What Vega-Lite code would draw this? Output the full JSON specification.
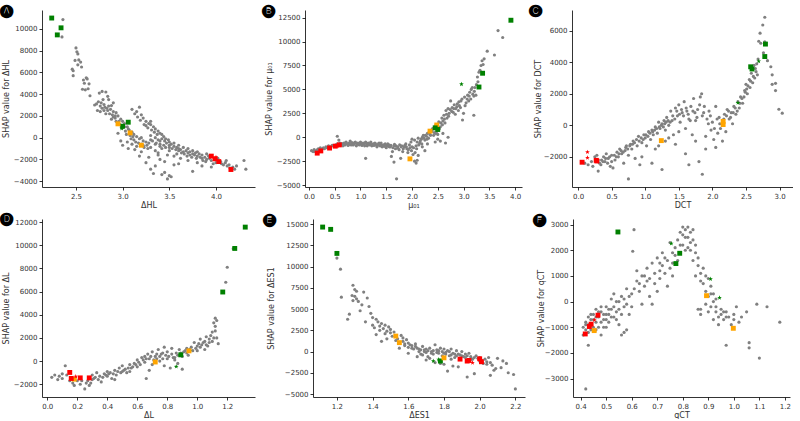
{
"$schema": "https://vega.github.io/schema/vega-lite/v6.json",
"padding": {"left": 0, "top": 3, "right": 0, "bottom": 0},
"background": "white",
"config": {
  "view": {"stroke": null},
  "axis": {"grid": false, "domainColor": "#000", "tickColor": "#000", "labelColor": "#333", "titleColor": "#333", "labelFont": "DejaVu Sans", "titleFont": "DejaVu Sans", "labelFontSize": 7, "titleFontSize": 8, "titleFontWeight": "normal", "tickSize": 3, "domainWidth": 0.8, "tickWidth": 0.8, "labelPadding": 2, "titlePadding": 3},
  "axisY": {"minExtent": 29, "maxExtent": 29},
  "axisX": {"titlePadding": 2},
  "title": {"font": "DejaVu Sans", "fontSize": 12.5, "color": "#000", "anchor": "start", "frame": "group", "offset": -6}
},
"datasets": {
  "A": [{"x":2.36,"y":10860},{"x":2.35,"y":9265},{"x":2.5,"y":8250},{"x":2.51,"y":7900},{"x":2.52,"y":7700},{"x":2.49,"y":7100},{"x":2.53,"y":7150},{"x":2.47,"y":6150},{"x":2.46,"y":6300},{"x":2.47,"y":5700},{"x":2.55,"y":6950},{"x":2.56,"y":6500},{"x":2.52,"y":6700},{"x":2.61,"y":5500},{"x":2.62,"y":5400},{"x":2.59,"y":5000},{"x":2.64,"y":4950},{"x":2.63,"y":4500},{"x":2.57,"y":4450},{"x":2.6,"y":4400},{"x":2.65,"y":3850},{"x":2.58,"y":5300},{"x":2.75,"y":4100},{"x":2.78,"y":4250},{"x":2.82,"y":4200},{"x":2.84,"y":3800},{"x":2.85,"y":3500},{"x":2.79,"y":3500},{"x":2.72,"y":3100},{"x":2.7,"y":3000},{"x":2.76,"y":2900},{"x":2.8,"y":3050},{"x":2.85,"y":2900},{"x":2.88,"y":2950},{"x":2.9,"y":3200},{"x":2.83,"y":2700},{"x":2.78,"y":2700},{"x":2.73,"y":2500},{"x":2.76,"y":2400},{"x":2.8,"y":2500},{"x":2.87,"y":2600},{"x":2.9,"y":2400},{"x":2.93,"y":2300},{"x":2.86,"y":2200},{"x":2.82,"y":2200},{"x":2.95,"y":2000},{"x":2.9,"y":1900},{"x":2.88,"y":1700},{"x":2.93,"y":1500},{"x":2.98,"y":1700},{"x":3.0,"y":1500},{"x":2.97,"y":1200},{"x":3.02,"y":1300},{"x":3.0,"y":900},{"x":3.05,"y":1000},{"x":3.07,"y":700},{"x":3.03,"y":600},{"x":3.1,"y":500},{"x":3.12,"y":300},{"x":3.08,"y":200},{"x":3.15,"y":100},{"x":3.18,"y":-100},{"x":3.2,"y":0},{"x":3.22,"y":-300},{"x":3.25,"y":-400},{"x":3.12,"y":-200},{"x":3.1,"y":-600},{"x":3.15,"y":-800},{"x":3.05,"y":-400},{"x":3.0,"y":-700},{"x":2.98,"y":-300},{"x":2.95,"y":400},{"x":3.06,"y":-1000},{"x":3.13,"y":-1100},{"x":3.2,"y":-1300},{"x":3.22,"y":-700},{"x":3.18,"y":-1700},{"x":3.25,"y":-2300},{"x":3.3,"y":-2900},{"x":3.33,"y":-3300},{"x":3.35,"y":-2600},{"x":3.4,"y":-2000},{"x":3.42,"y":-3400},{"x":3.45,"y":-3200},{"x":3.48,"y":-3800},{"x":3.5,"y":-3500},{"x":3.52,"y":-3600},{"x":3.55,"y":-2500},{"x":3.45,"y":-2200},{"x":3.38,"y":-1600},{"x":3.35,"y":-1200},{"x":3.3,"y":-900},{"x":3.28,"y":-1800},{"x":3.1,"y":2600},{"x":3.15,"y":2400},{"x":3.13,"y":2200},{"x":3.18,"y":2800},{"x":3.2,"y":2100},{"x":3.22,"y":1800},{"x":3.25,"y":1500},{"x":3.28,"y":1300},{"x":3.3,"y":1200},{"x":3.33,"y":1000},{"x":3.35,"y":800},{"x":3.38,"y":600},{"x":3.4,"y":400},{"x":3.42,"y":300},{"x":3.3,"y":1500},{"x":3.25,"y":1100},{"x":3.3,"y":200},{"x":3.35,"y":0},{"x":3.38,"y":-200},{"x":3.4,"y":-300},{"x":3.42,"y":-100},{"x":3.45,"y":-300},{"x":3.47,"y":-500},{"x":3.5,"y":-400},{"x":3.5,"y":-700},{"x":3.52,"y":-600},{"x":3.55,"y":-800},{"x":3.55,"y":-500},{"x":3.58,"y":-900},{"x":3.6,"y":-700},{"x":3.6,"y":-1000},{"x":3.62,"y":-1100},{"x":3.65,"y":-900},{"x":3.65,"y":-1300},{"x":3.68,"y":-1200},{"x":3.7,"y":-1000},{"x":3.7,"y":-1400},{"x":3.72,"y":-1600},{"x":3.75,"y":-1200},{"x":3.75,"y":-1500},{"x":3.78,"y":-1400},{"x":3.8,"y":-1300},{"x":3.8,"y":-1700},{"x":3.82,"y":-1500},{"x":3.85,"y":-1600},{"x":3.85,"y":-1900},{"x":3.88,"y":-1800},{"x":3.9,"y":-1500},{"x":3.9,"y":-2000},{"x":3.92,"y":-1700},{"x":3.95,"y":-2100},{"x":4.0,"y":-2300},{"x":4.02,"y":-1900},{"x":4.05,"y":-2200},{"x":4.08,"y":-2500},{"x":4.1,"y":-2300},{"x":4.12,"y":-2600},{"x":4.15,"y":-2800},{"x":4.18,"y":-2700},{"x":4.3,"y":-2100},{"x":4.32,"y":-2900},{"x":3.7,"y":-2100},{"x":3.6,"y":-2400},{"x":3.62,"y":-1900},{"x":3.8,"y":-2300},{"x":3.75,"y":-3100},{"x":3.85,"y":-2600},{"x":3.95,"y":-2700},{"x":3.58,"y":-1500},{"x":3.48,"y":-1600},{"x":3.42,"y":-1000},{"x":3.5,"y":-1200},{"x":3.55,"y":-1700},{"x":3.35,"y":-600},{"x":3.4,"y":-800},{"x":3.28,"y":-500},{"x":3.3,"y":-200},{"x":3.38,"y":-1400},
        {"x":3.32,"y":-300},{"x":3.36,"y":-500},{"x":3.4,"y":-600},{"x":3.44,"y":-700},{"x":3.46,"y":-900},{"x":3.5,"y":-900},{"x":3.53,"y":-1000},{"x":3.57,"y":-1100},{"x":3.6,"y":-1200},{"x":3.63,"y":-1400},{"x":3.66,"y":-1500},{"x":3.69,"y":-1700},{"x":3.72,"y":-1300},{"x":3.74,"y":-1800},{"x":3.77,"y":-1600},{"x":3.79,"y":-1900},{"x":3.83,"y":-1800},{"x":3.86,"y":-2100},{"x":3.89,"y":-2200},{"x":3.93,"y":-1900},{"x":3.97,"y":-2400},{"x":4.06,"y":-2400},{"x":4.11,"y":-2100},{"x":4.14,"y":-2500},{"x":4.2,"y":-2900},{"x":4.22,"y":-2600},{"x":3.02,"y":1000},{"x":3.04,"y":300},{"x":3.06,"y":800},{"x":3.09,"y":-100},{"x":3.11,"y":100},{"x":3.14,"y":-400},{"x":3.17,"y":-500},{"x":3.2,"y":-600},{"x":3.23,"y":-900},{"x":3.26,"y":-700},{"x":3.27,"y":-1000},{"x":2.92,"y":1800},{"x":2.96,"y":1500},{"x":2.99,"y":1100},{"x":2.74,"y":3300},{"x":2.77,"y":3200},{"x":2.81,"y":2800},{"x":2.84,"y":2500},{"x":2.89,"y":2100},{"x":2.92,"y":2000},{"x":3.16,"y":1900},{"x":3.19,"y":1600},{"x":3.23,"y":1200},{"x":3.27,"y":900},{"x":3.31,"y":700},{"x":3.34,"y":500},{"x":3.37,"y":300},{"x":3.44,"y":100},{"x":3.46,"y":-100},{"x":3.49,"y":-200}],
  "Ah": [{"x":2.24,"y":11000,"c":"green","m":"square"},{"x":2.34,"y":10100,"c":"green","m":"square"},{"x":2.3,"y":9450,"c":"green","m":"square"},{"x":3.0,"y":1050,"c":"green","m":"square"},{"x":3.06,"y":1420,"c":"green","m":"square"},{"x":2.99,"y":850,"c":"green","m":"star"},{"x":2.95,"y":1270,"c":"orange","m":"square"},{"x":3.08,"y":440,"c":"orange","m":"square"},{"x":3.2,"y":-700,"c":"orange","m":"square"},{"x":3.95,"y":-1700,"c":"red","m":"square"},{"x":4.0,"y":-1800,"c":"red","m":"star"},{"x":3.99,"y":-1950,"c":"red","m":"square"},{"x":4.03,"y":-2200,"c":"red","m":"square"},{"x":4.16,"y":-2930,"c":"red","m":"square"}],
  "B": [{"x":0.05,"y":-1400},{"x":0.08,"y":-1500},{"x":0.1,"y":-1300},{"x":0.12,"y":-1500},{"x":0.15,"y":-1350},{"x":0.18,"y":-1200},{"x":0.2,"y":-1400},{"x":0.22,"y":-1100},{"x":0.25,"y":-1250},{"x":0.28,"y":-1100},{"x":0.3,"y":-1200},{"x":0.33,"y":-1000},{"x":0.35,"y":-1100},{"x":0.38,"y":-900},{"x":0.42,"y":-1000},{"x":0.45,"y":-850},{"x":0.48,"y":-950},{"x":0.52,"y":-800},{"x":0.55,"y":-700},{"x":0.55,"y":100},{"x":0.58,"y":-300},{"x":0.6,"y":-600},{"x":0.62,"y":-800},{"x":0.65,"y":-700},{"x":0.68,"y":-600},{"x":0.7,"y":-800},{"x":0.72,"y":-500},{"x":0.75,"y":-700},{"x":0.78,"y":-600},{"x":0.8,"y":-400},{"x":0.82,"y":-800},{"x":0.85,"y":-600},{"x":0.88,"y":-700},{"x":0.9,"y":-500},{"x":0.92,"y":-900},{"x":0.95,"y":-600},{"x":0.98,"y":-800},{"x":1.0,"y":-500},{"x":1.02,"y":-700},{"x":1.05,"y":-600},{"x":1.08,"y":-900},{"x":1.1,"y":-2200},{"x":1.1,"y":-500},{"x":1.12,"y":-700},{"x":1.15,"y":-600},{"x":1.18,"y":-800},{"x":1.2,"y":-500},{"x":1.22,"y":-900},{"x":1.25,"y":-700},{"x":1.28,"y":-600},{"x":1.3,"y":-800},{"x":1.32,"y":-1000},{"x":1.35,"y":-700},{"x":1.38,"y":-900},{"x":1.4,"y":-600},{"x":1.42,"y":-1000},{"x":1.45,"y":-800},{"x":1.48,"y":-700},{"x":1.5,"y":-1100},{"x":1.52,"y":-900},{"x":1.55,"y":-800},{"x":1.58,"y":-1000},{"x":1.6,"y":-2000},{"x":1.62,"y":-1500},{"x":1.65,"y":-900},{"x":1.65,"y":-2600},{"x":1.68,"y":-1200},{"x":1.7,"y":-4350},{"x":1.72,"y":-1000},{"x":1.75,"y":-1300},{"x":1.78,"y":-2200},{"x":1.8,"y":-900},{"x":1.82,"y":-1500},{"x":1.85,"y":-1000},{"x":1.88,"y":-700},{"x":1.9,"y":-1200},{"x":1.92,"y":-1600},{"x":1.95,"y":-800},{"x":1.98,"y":-500},{"x":2.0,"y":-1000},{"x":2.02,"y":-1800},{"x":2.05,"y":-2500},{"x":2.08,"y":-2700},{"x":2.1,"y":-2400},{"x":2.12,"y":-1900},{"x":2.0,"y":-200},{"x":2.05,"y":-300},{"x":2.08,"y":-900},{"x":2.1,"y":-500},{"x":2.12,"y":-100},{"x":2.15,"y":-600},{"x":2.18,"y":-200},{"x":2.2,"y":0},{"x":2.22,"y":200},{"x":2.25,"y":-300},{"x":2.28,"y":100},{"x":2.3,"y":400},{"x":2.32,"y":-100},{"x":2.35,"y":300},{"x":2.38,"y":600},{"x":2.4,"y":900},{"x":2.42,"y":200},{"x":2.45,"y":1200},{"x":2.48,"y":600},{"x":2.5,"y":300},{"x":2.52,"y":1600},{"x":2.55,"y":1100},{"x":2.58,"y":2000},{"x":2.6,"y":1700},{"x":2.62,"y":2300},{"x":2.64,"y":1500},{"x":2.66,"y":2800},{"x":2.68,"y":2000},{"x":2.7,"y":3000},{"x":2.72,"y":2500},{"x":2.75,"y":3800},{"x":2.78,"y":3100},{"x":2.8,"y":2600},{"x":2.82,"y":3400},{"x":2.85,"y":3000},{"x":2.88,"y":3500},{"x":2.9,"y":2800},{"x":2.92,"y":3300},{"x":2.95,"y":3800},{"x":2.98,"y":1800},{"x":3.0,"y":2500},{"x":3.02,"y":4200},{"x":3.05,"y":3600},{"x":3.08,"y":4400},{"x":3.1,"y":3800},{"x":3.12,"y":4700},{"x":3.15,"y":5000},{"x":3.18,"y":4500},{"x":3.2,"y":4300},{"x":3.2,"y":2300},{"x":3.22,"y":5200},{"x":3.25,"y":5500},{"x":3.28,"y":5800},{"x":3.32,"y":7000},{"x":3.34,"y":7500},{"x":3.36,"y":8000},{"x":3.38,"y":7600},{"x":3.4,"y":8200},{"x":3.46,"y":9000},{"x":3.6,"y":8600},{"x":3.67,"y":11150},{"x":3.76,"y":10430},{"x":2.5,"y":-200},{"x":2.45,"y":-500},{"x":2.55,"y":-400},{"x":2.6,"y":400},{"x":2.65,"y":-600},{"x":2.7,"y":0},{"x":2.3,"y":-700},{"x":2.2,"y":-1000},{"x":2.25,"y":-1400},
        {"x":0.63,"y":-650},{"x":0.66,"y":-900},{"x":0.69,"y":-750},{"x":0.73,"y":-650},{"x":0.76,"y":-850},{"x":0.79,"y":-750},{"x":0.83,"y":-550},{"x":0.86,"y":-800},{"x":0.89,"y":-550},{"x":0.93,"y":-650},{"x":0.96,"y":-750},{"x":0.99,"y":-650},{"x":1.03,"y":-850},{"x":1.06,"y":-700},{"x":1.09,"y":-600},{"x":1.13,"y":-900},{"x":1.16,"y":-750},{"x":1.19,"y":-650},{"x":1.23,"y":-750},{"x":1.26,"y":-850},{"x":1.29,"y":-700},{"x":1.33,"y":-850},{"x":1.36,"y":-600},{"x":1.39,"y":-750},{"x":1.43,"y":-850},{"x":1.46,"y":-950},{"x":1.49,"y":-850},{"x":1.53,"y":-700},{"x":1.56,"y":-1000},{"x":1.59,"y":-850},{"x":1.63,"y":-1100},{"x":1.66,"y":-750},{"x":1.69,"y":-900},{"x":1.73,"y":-1150},{"x":1.76,"y":-800},{"x":1.79,"y":-1000},{"x":1.83,"y":-1200},{"x":1.86,"y":-850},{"x":1.89,"y":-1000},{"x":1.93,"y":-1300},{"x":1.96,"y":-1100},{"x":1.99,"y":-1400},{"x":2.03,"y":-1100},{"x":2.06,"y":-1600},{"x":2.09,"y":-1200},{"x":2.13,"y":-800},{"x":2.16,"y":-400},{"x":2.19,"y":-700},{"x":2.23,"y":-100},{"x":2.26,"y":200},{"x":2.29,"y":-200},{"x":2.33,"y":500},{"x":2.36,"y":200},{"x":2.39,"y":800},{"x":2.43,"y":500},{"x":2.46,"y":400},{"x":2.53,"y":900},{"x":2.56,"y":1500},{"x":2.59,"y":1300},{"x":2.63,"y":1900},{"x":2.67,"y":2400},{"x":2.71,"y":2200},{"x":2.74,"y":2900},{"x":2.77,"y":2700},{"x":2.81,"y":3000},{"x":2.84,"y":2400},{"x":2.87,"y":3200},{"x":2.91,"y":3700},{"x":2.94,"y":3100},{"x":2.97,"y":4000},{"x":3.03,"y":3300},{"x":3.07,"y":4000},{"x":3.11,"y":4300},{"x":3.14,"y":4000},{"x":3.17,"y":5200},{"x":3.21,"y":4800},{"x":3.24,"y":4400},{"x":3.27,"y":6300},{"x":3.3,"y":6800}],
  "Bh": [{"x":0.16,"y":-1660,"c":"red","m":"square"},{"x":0.23,"y":-1430,"c":"red","m":"square"},{"x":0.4,"y":-1130,"c":"red","m":"square"},{"x":0.51,"y":-930,"c":"red","m":"square"},{"x":0.59,"y":-800,"c":"red","m":"square"},{"x":0.55,"y":-950,"c":"red","m":"star"},{"x":1.96,"y":-2260,"c":"orange","m":"square"},{"x":2.35,"y":640,"c":"orange","m":"square"},{"x":2.48,"y":1280,"c":"orange","m":"square"},{"x":2.45,"y":980,"c":"green","m":"square"},{"x":2.5,"y":810,"c":"green","m":"square"},{"x":2.96,"y":5550,"c":"green","m":"star"},{"x":3.3,"y":5250,"c":"green","m":"square"},{"x":3.37,"y":6690,"c":"green","m":"square"},{"x":3.92,"y":12230,"c":"green","m":"square"}],
  "C": [{"x":0.1,"y":-2400},{"x":0.15,"y":-2500},{"x":0.2,"y":-2300},{"x":0.22,"y":-2600},{"x":0.25,"y":-2000},{"x":0.28,"y":-1900},{"x":0.3,"y":-2900},{"x":0.32,"y":-2400},{"x":0.35,"y":-2200},{"x":0.38,"y":-2000},{"x":0.4,"y":-2300},{"x":0.42,"y":-1800},{"x":0.45,"y":-2100},{"x":0.48,"y":-2600},{"x":0.5,"y":-1900},{"x":0.52,"y":-2700},{"x":0.55,"y":-2200},{"x":0.58,"y":-1700},{"x":0.6,"y":-2000},{"x":0.62,"y":-1500},{"x":0.65,"y":-1800},{"x":0.68,"y":-2400},{"x":0.7,"y":-1600},{"x":0.72,"y":-1300},{"x":0.75,"y":-3400},{"x":0.75,"y":-1900},{"x":0.78,"y":-1200},{"x":0.8,"y":-1500},{"x":0.82,"y":-1000},{"x":0.85,"y":-2100},{"x":0.88,"y":-1300},{"x":0.9,"y":-700},{"x":0.92,"y":-2500},{"x":0.95,"y":-1100},{"x":0.98,"y":-600},{"x":1.0,"y":-800},{"x":1.02,"y":-1300},{"x":1.05,"y":-400},{"x":1.08,"y":-900},{"x":1.1,"y":-300},{"x":1.1,"y":-2400},{"x":1.12,"y":-600},{"x":1.15,"y":-100},{"x":1.18,"y":-500},{"x":1.2,"y":200},{"x":1.2,"y":-1300},{"x":1.22,"y":-200},{"x":1.25,"y":100},{"x":1.25,"y":-2800},{"x":1.28,"y":300},{"x":1.3,"y":-300},{"x":1.32,"y":500},{"x":1.35,"y":0},{"x":1.38,"y":900},{"x":1.4,"y":300},{"x":1.42,"y":-600},{"x":1.45,"y":1100},{"x":1.48,"y":600},{"x":1.5,"y":1300},{"x":1.5,"y":-400},{"x":1.52,"y":200},{"x":1.55,"y":800},{"x":1.58,"y":1500},{"x":1.6,"y":-200},{"x":1.6,"y":-1800},{"x":1.62,"y":900},{"x":1.65,"y":400},{"x":1.68,"y":1200},{"x":1.7,"y":-600},{"x":1.72,"y":1700},{"x":1.75,"y":300},{"x":1.75,"y":-1000},{"x":1.78,"y":1000},{"x":1.8,"y":-2300},{"x":1.82,"y":1800},{"x":1.84,"y":2000},{"x":1.85,"y":-3100},{"x":1.85,"y":600},{"x":1.88,"y":1200},{"x":1.9,"y":-700},{"x":1.9,"y":-1500},{"x":1.92,"y":400},{"x":1.95,"y":900},{"x":1.98,"y":-300},{"x":2.0,"y":200},{"x":2.02,"y":-900},{"x":2.05,"y":1200},{"x":2.05,"y":-1400},{"x":2.08,"y":-500},{"x":2.1,"y":500},{"x":2.12,"y":-200},{"x":2.15,"y":-1000},{"x":2.18,"y":700},{"x":2.2,"y":-400},{"x":2.22,"y":1000},{"x":2.25,"y":400},{"x":2.28,"y":800},{"x":2.3,"y":100},{"x":2.32,"y":1200},{"x":2.35,"y":700},{"x":2.38,"y":1500},{"x":2.4,"y":1100},{"x":2.42,"y":1800},{"x":2.45,"y":1400},{"x":2.48,"y":2200},{"x":2.5,"y":2600},{"x":2.52,"y":2000},{"x":2.55,"y":2900},{"x":2.58,"y":3300},{"x":2.6,"y":2700},{"x":2.62,"y":3800},{"x":2.65,"y":3400},{"x":2.68,"y":4200},{"x":2.69,"y":5330},{"x":2.71,"y":5840},{"x":2.72,"y":5200},{"x":2.75,"y":6360},{"x":2.78,"y":6850},{"x":2.76,"y":4600},{"x":2.87,"y":3710},{"x":2.89,"y":3200},{"x":2.89,"y":2600},{"x":2.94,"y":2660},{"x":2.94,"y":2200},{"x":2.99,"y":1020},{"x":3.04,"y":770},{"x":2.82,"y":4100},{"x":2.78,"y":5300},{"x":1.3,"y":-1000},{"x":1.45,"y":-1200},{"x":0.95,"y":-2000},{"x":1.15,"y":-1500},{"x":1.35,"y":-800},{"x":1.65,"y":-2500},
        {"x":0.3,"y":-2200},{"x":0.34,"y":-2500},{"x":0.37,"y":-2300},{"x":0.41,"y":-2100},{"x":0.44,"y":-2400},{"x":0.47,"y":-2000},{"x":0.5,"y":-2300},{"x":0.54,"y":-1900},{"x":0.57,"y":-2000},{"x":0.61,"y":-1800},{"x":0.64,"y":-1600},{"x":0.67,"y":-1700},{"x":0.71,"y":-1400},{"x":0.74,"y":-1500},{"x":0.77,"y":-1300},{"x":0.81,"y":-1200},{"x":0.84,"y":-1100},{"x":0.87,"y":-900},{"x":0.91,"y":-1000},{"x":0.94,"y":-800},{"x":0.97,"y":-900},{"x":1.01,"y":-600},{"x":1.04,"y":-700},{"x":1.07,"y":-500},{"x":1.11,"y":-400},{"x":1.14,"y":-300},{"x":1.17,"y":-200},{"x":1.21,"y":-100},{"x":1.24,"y":0},{"x":1.27,"y":-100},{"x":1.29,"y":100},{"x":1.31,"y":200},{"x":1.34,"y":300},{"x":1.37,"y":200},{"x":1.41,"y":600},{"x":1.44,"y":400},{"x":1.47,"y":900},{"x":1.51,"y":700},{"x":1.54,"y":1000},{"x":1.57,"y":600},{"x":1.61,"y":1100},{"x":1.64,"y":700},{"x":1.67,"y":300},{"x":1.71,"y":900},{"x":1.74,"y":800},{"x":1.77,"y":500},{"x":1.81,"y":1300},{"x":1.87,"y":800},{"x":1.94,"y":100},{"x":1.97,"y":600},{"x":2.03,"y":-200},{"x":2.07,"y":400},{"x":2.11,"y":100},{"x":2.17,"y":400},{"x":2.21,"y":600},{"x":2.24,"y":900},{"x":2.27,"y":500},{"x":2.31,"y":800},{"x":2.34,"y":1100},{"x":2.37,"y":900},{"x":2.41,"y":1400},{"x":2.44,"y":1700},{"x":2.47,"y":1800},{"x":2.49,"y":2100},{"x":2.51,"y":2300},{"x":2.53,"y":2500},{"x":2.56,"y":2400},{"x":2.57,"y":2800},{"x":2.61,"y":3100},{"x":2.63,"y":3000},{"x":2.64,"y":3600},{"x":2.66,"y":3900},{"x":2.67,"y":3200}],
  "Ch": [{"x":0.06,"y":-2340,"c":"red","m":"square"},{"x":0.27,"y":-2220,"c":"red","m":"square"},{"x":0.28,"y":-2260,"c":"red","m":"square"},{"x":0.14,"y":-1700,"c":"red","m":"star"},{"x":0.14,"y":-2060,"c":"red","m":"star"},{"x":1.24,"y":-970,"c":"orange","m":"square"},{"x":2.16,"y":250,"c":"orange","m":"square"},{"x":2.16,"y":50,"c":"orange","m":"square"},{"x":2.38,"y":1425,"c":"green","m":"star"},{"x":2.57,"y":3710,"c":"green","m":"square"},{"x":2.59,"y":3570,"c":"green","m":"square"},{"x":2.69,"y":4060,"c":"green","m":"star"},{"x":2.79,"y":5150,"c":"green","m":"square"},{"x":2.78,"y":4360,"c":"green","m":"square"}],
  "D": [{"x":0.03,"y":-1400},{"x":0.05,"y":-1200},{"x":0.07,"y":-1600},{"x":0.08,"y":-1300},{"x":0.1,"y":-1500},{"x":0.12,"y":-400},{"x":0.13,"y":-1200},{"x":0.15,"y":-1700},{"x":0.17,"y":-1900},{"x":0.2,"y":-1700},{"x":0.22,"y":-2000},{"x":0.23,"y":-1700},{"x":0.25,"y":-2400},{"x":0.26,"y":-1900},{"x":0.28,"y":-2100},{"x":0.3,"y":-1600},{"x":0.3,"y":-1200},{"x":0.32,"y":-1400},{"x":0.33,"y":-1000},{"x":0.35,"y":-1300},{"x":0.36,"y":-1800},{"x":0.38,"y":-1100},{"x":0.4,"y":-1300},{"x":0.4,"y":-900},{"x":0.42,"y":-1000},{"x":0.43,"y":-1500},{"x":0.45,"y":-800},{"x":0.46,"y":-1200},{"x":0.48,"y":-600},{"x":0.5,"y":-900},{"x":0.5,"y":-400},{"x":0.52,"y":-700},{"x":0.53,"y":-1000},{"x":0.55,"y":-300},{"x":0.56,"y":-600},{"x":0.58,"y":-200},{"x":0.6,"y":-500},{"x":0.6,"y":100},{"x":0.62,"y":-300},{"x":0.63,"y":300},{"x":0.65,"y":-100},{"x":0.66,"y":-1500},{"x":0.67,"y":600},{"x":0.68,"y":200},{"x":0.7,"y":800},{"x":0.7,"y":-300},{"x":0.72,"y":400},{"x":0.74,"y":1000},{"x":0.75,"y":0},{"x":0.76,"y":600},{"x":0.78,"y":-400},{"x":0.78,"y":1200},{"x":0.8,"y":200},{"x":0.8,"y":800},{"x":0.82,"y":-600},{"x":0.83,"y":1100},{"x":0.84,"y":300},{"x":0.86,"y":700},{"x":0.87,"y":-200},{"x":0.88,"y":1000},{"x":0.9,"y":400},{"x":0.9,"y":-700},{"x":0.92,"y":900},{"x":0.94,"y":500},{"x":0.96,"y":1200},{"x":0.98,"y":1600},{"x":1.0,"y":1300},{"x":1.0,"y":900},{"x":1.02,"y":1900},{"x":1.03,"y":1400},{"x":1.05,"y":1700},{"x":1.06,"y":2100},{"x":1.07,"y":1300},{"x":1.08,"y":1900},{"x":1.1,"y":2500},{"x":1.1,"y":1700},{"x":1.11,"y":3300},{"x":1.12,"y":3700},{"x":1.12,"y":2600},{"x":1.13,"y":2000},{"x":1.14,"y":1500},{"x":1.19,"y":6800},{"x":1.2,"y":8100},{"x":1.24,"y":9700},{"x":0.45,"y":-1600},{"x":0.55,"y":-900},{"x":0.65,"y":400},{"x":0.68,"y":-800},{"x":0.73,"y":200},{"x":0.77,"y":700},{"x":0.85,"y":100},{"x":0.93,"y":1100},{"x":1.05,"y":1000},{"x":0.1,"y":-1100},{"x":0.18,"y":-2100},
        {"x":0.27,"y":-1700},{"x":0.29,"y":-1900},{"x":0.31,"y":-1500},{"x":0.34,"y":-1600},{"x":0.37,"y":-1400},{"x":0.39,"y":-1200},{"x":0.41,"y":-1100},{"x":0.44,"y":-1100},{"x":0.47,"y":-900},{"x":0.49,"y":-1000},{"x":0.51,"y":-800},{"x":0.54,"y":-600},{"x":0.57,"y":-500},{"x":0.59,"y":-300},{"x":0.61,"y":-100},{"x":0.64,"y":100},{"x":0.66,"y":200},{"x":0.69,"y":400},{"x":0.71,"y":100},{"x":0.73,"y":600},{"x":0.75,"y":400},{"x":0.77,"y":200},{"x":0.79,"y":500},{"x":0.81,"y":400},{"x":0.83,"y":600},{"x":0.85,"y":300},{"x":0.87,"y":500},{"x":0.89,"y":700},{"x":0.91,"y":800},{"x":0.93,"y":700},{"x":0.95,"y":1000},{"x":0.97,"y":900},{"x":0.99,"y":1100},{"x":1.01,"y":1500},{"x":1.02,"y":1200},{"x":1.04,"y":1600},{"x":1.06,"y":1400},{"x":1.08,"y":1600},{"x":1.09,"y":2200},{"x":1.11,"y":2000},{"x":1.12,"y":3000},{"x":1.13,"y":3500}],
  "Dh": [{"x":1.32,"y":11560,"c":"green","m":"square"},{"x":1.25,"y":9720,"c":"green","m":"square"},{"x":1.17,"y":5960,"c":"green","m":"square"},{"x":0.89,"y":540,"c":"green","m":"square"},{"x":0.95,"y":890,"c":"green","m":"star"},{"x":0.86,"y":-480,"c":"green","m":"star"},{"x":0.72,"y":-80,"c":"orange","m":"square"},{"x":0.945,"y":880,"c":"orange","m":"square"},{"x":0.18,"y":-1560,"c":"orange","m":"square"},{"x":0.15,"y":-980,"c":"red","m":"square"},{"x":0.16,"y":-1500,"c":"red","m":"square"},{"x":0.19,"y":-1330,"c":"red","m":"star"},{"x":0.22,"y":-1450,"c":"red","m":"square"},{"x":0.28,"y":-1450,"c":"red","m":"square"}],
  "E": [{"x":1.2,"y":11000},{"x":1.22,"y":9700},{"x":1.225,"y":6400},{"x":1.26,"y":3800},{"x":1.27,"y":4400},{"x":1.29,"y":7800},{"x":1.285,"y":6600},{"x":1.3,"y":7300},{"x":1.31,"y":7100},{"x":1.29,"y":6000},{"x":1.3,"y":6500},{"x":1.32,"y":5900},{"x":1.31,"y":6200},{"x":1.35,"y":7000},{"x":1.34,"y":5500},{"x":1.37,"y":6300},{"x":1.38,"y":5300},{"x":1.39,"y":4500},{"x":1.4,"y":4000},{"x":1.4,"y":3100},{"x":1.42,"y":3800},{"x":1.43,"y":3500},{"x":1.44,"y":3000},{"x":1.45,"y":3300},{"x":1.46,"y":2700},{"x":1.47,"y":3100},{"x":1.48,"y":2400},{"x":1.49,"y":2900},{"x":1.5,"y":2600},{"x":1.5,"y":2200},{"x":1.52,"y":2300},{"x":1.53,"y":1300},{"x":1.45,"y":1200},{"x":1.54,"y":1500},{"x":1.56,"y":1900},{"x":1.57,"y":1200},{"x":1.58,"y":900},{"x":1.6,"y":1000},{"x":1.6,"y":500},{"x":1.62,"y":700},{"x":1.63,"y":300},{"x":1.64,"y":900},{"x":1.65,"y":400},{"x":1.66,"y":0},{"x":1.67,"y":-300},{"x":1.68,"y":600},{"x":1.69,"y":200},{"x":1.7,"y":-100},{"x":1.71,"y":-600},{"x":1.72,"y":400},{"x":1.73,"y":0},{"x":1.74,"y":-300},{"x":1.75,"y":800},{"x":1.76,"y":200},{"x":1.77,"y":-200},{"x":1.78,"y":400},{"x":1.79,"y":-500},{"x":1.8,"y":300},{"x":1.8,"y":-1500},{"x":1.81,"y":-100},{"x":1.82,"y":-2300},{"x":1.82,"y":100},{"x":1.83,"y":-500},{"x":1.84,"y":300},{"x":1.85,"y":-200},{"x":1.85,"y":-1700},{"x":1.86,"y":-700},{"x":1.87,"y":100},{"x":1.88,"y":-300},{"x":1.88,"y":-1800},{"x":1.9,"y":-500},{"x":1.9,"y":0},{"x":1.92,"y":-700},{"x":1.92,"y":-300},{"x":1.93,"y":-3000},{"x":1.94,"y":-200},{"x":1.95,"y":-600},{"x":1.96,"y":-900},{"x":1.97,"y":-2600},{"x":1.98,"y":-500},{"x":2.0,"y":-700},{"x":2.0,"y":-1100},{"x":2.02,"y":-1400},{"x":2.03,"y":-900},{"x":2.04,"y":-1200},{"x":2.05,"y":-700},{"x":2.06,"y":-2800},{"x":2.07,"y":-1600},{"x":2.08,"y":-2200},{"x":2.09,"y":-2000},{"x":2.1,"y":-800},{"x":2.12,"y":-1900},{"x":2.13,"y":-1100},{"x":2.15,"y":-1400},{"x":2.16,"y":-2500},{"x":2.19,"y":-2700},{"x":2.2,"y":-4400},{"x":1.7,"y":-1000},{"x":1.75,"y":-1300},{"x":1.6,"y":-200},{"x":1.55,"y":400},{"x":1.65,"y":-600},{"x":1.72,"y":-800},{"x":1.84,"y":-900},{"x":1.78,"y":-1400},{"x":1.48,"y":1500},{"x":1.42,"y":2000},{"x":1.68,"y":-400},
        {"x":1.58,"y":700},{"x":1.61,"y":800},{"x":1.62,"y":400},{"x":1.64,"y":600},{"x":1.66,"y":300},{"x":1.67,"y":200},{"x":1.69,"y":0},{"x":1.7,"y":300},{"x":1.71,"y":100},{"x":1.73,"y":-200},{"x":1.74,"y":100},{"x":1.76,"y":-100},{"x":1.77,"y":100},{"x":1.79,"y":0},{"x":1.8,"y":-200},{"x":1.81,"y":-300},{"x":1.83,"y":0},{"x":1.84,"y":-400},{"x":1.86,"y":-300},{"x":1.87,"y":-500},{"x":1.89,"y":-400},{"x":1.91,"y":-600},{"x":1.93,"y":-500},{"x":1.95,"y":-900},{"x":1.97,"y":-700},{"x":1.99,"y":-800},{"x":2.01,"y":-1000},{"x":2.04,"y":-1500},{"x":2.06,"y":-1300},{"x":1.51,"y":1800},{"x":1.47,"y":2100},{"x":1.44,"y":2500},{"x":1.41,"y":2800},{"x":1.36,"y":3500},{"x":1.33,"y":4800},{"x":1.57,"y":1600},{"x":1.59,"y":1400}],
  "Eh": [{"x":1.12,"y":14650,"c":"green","m":"square"},{"x":1.165,"y":14380,"c":"green","m":"square"},{"x":1.2,"y":11550,"c":"green","m":"square"},{"x":1.74,"y":-1120,"c":"green","m":"star"},{"x":1.77,"y":-930,"c":"green","m":"star"},{"x":1.78,"y":-1120,"c":"green","m":"square"},{"x":1.53,"y":1820,"c":"orange","m":"square"},{"x":1.55,"y":1050,"c":"orange","m":"square"},{"x":1.8,"y":-740,"c":"orange","m":"square"},{"x":1.89,"y":-890,"c":"red","m":"square"},{"x":1.93,"y":-1120,"c":"red","m":"square"},{"x":1.94,"y":-1050,"c":"red","m":"square"},{"x":1.96,"y":-1320,"c":"red","m":"star"},{"x":2.0,"y":-850,"c":"red","m":"square"},{"x":2.01,"y":-1200,"c":"red","m":"square"}],
  "F": [{"x":0.41,"y":-1300},{"x":0.41,"y":-1000},{"x":0.42,"y":-1100},{"x":0.42,"y":-800},{"x":0.43,"y":-1200},{"x":0.43,"y":-600},{"x":0.44,"y":-900},{"x":0.44,"y":-700},{"x":0.45,"y":-1000},{"x":0.45,"y":-500},{"x":0.46,"y":-800},{"x":0.46,"y":-300},{"x":0.47,"y":-600},{"x":0.47,"y":-1000},{"x":0.48,"y":-400},{"x":0.48,"y":-1300},{"x":0.49,"y":-700},{"x":0.5,"y":-200},{"x":0.5,"y":-500},{"x":0.51,"y":-800},{"x":0.52,"y":-300},{"x":0.52,"y":100},{"x":0.53,"y":-600},{"x":0.53,"y":300},{"x":0.54,"y":-400},{"x":0.55,"y":0},{"x":0.55,"y":-900},{"x":0.56,"y":-1300},{"x":0.56,"y":200},{"x":0.57,"y":-200},{"x":0.58,"y":500},{"x":0.58,"y":-1100},{"x":0.59,"y":-500},{"x":0.6,"y":300},{"x":0.6,"y":-200},{"x":0.604,"y":1960},{"x":0.609,"y":2800},{"x":0.62,"y":800},{"x":0.62,"y":1200},{"x":0.63,"y":400},{"x":0.64,"y":-100},{"x":0.64,"y":1000},{"x":0.65,"y":600},{"x":0.66,"y":1300},{"x":0.67,"y":900},{"x":0.67,"y":200},{"x":0.68,"y":1500},{"x":0.69,"y":1100},{"x":0.7,"y":1700},{"x":0.7,"y":400},{"x":0.71,"y":900},{"x":0.72,"y":1400},{"x":0.72,"y":1900},{"x":0.73,"y":1100},{"x":0.74,"y":1600},{"x":0.74,"y":600},{"x":0.75,"y":2300},{"x":0.75,"y":1300},{"x":0.76,"y":1900},{"x":0.77,"y":2100},{"x":0.78,"y":1600},{"x":0.78,"y":2400},{"x":0.79,"y":2700},{"x":0.8,"y":2900},{"x":0.8,"y":2200},{"x":0.81,"y":2500},{"x":0.82,"y":2900},{"x":0.82,"y":2100},{"x":0.83,"y":2700},{"x":0.83,"y":2000},{"x":0.84,"y":2400},{"x":0.84,"y":1600},{"x":0.85,"y":1900},{"x":0.85,"y":1000},{"x":0.86,"y":1400},{"x":0.86,"y":-300},{"x":0.87,"y":1100},{"x":0.87,"y":-500},{"x":0.88,"y":700},{"x":0.88,"y":1300},{"x":0.89,"y":400},{"x":0.89,"y":-100},{"x":0.9,"y":900},{"x":0.9,"y":-400},{"x":0.91,"y":600},{"x":0.91,"y":-200},{"x":0.92,"y":300},{"x":0.92,"y":-700},{"x":0.93,"y":-400},{"x":0.93,"y":100},{"x":0.94,"y":-900},{"x":0.94,"y":-600},{"x":0.95,"y":-300},{"x":0.95,"y":-500},{"x":0.96,"y":-700},{"x":0.97,"y":-1700},{"x":0.97,"y":-400},{"x":0.98,"y":-600},{"x":0.99,"y":-900},{"x":1.0,"y":-500},{"x":1.0,"y":-700},{"x":1.01,"y":-200},{"x":1.02,"y":-800},{"x":1.03,"y":-600},{"x":1.05,"y":-400},{"x":1.06,"y":-1600},{"x":1.06,"y":-1800},{"x":1.09,"y":-100},{"x":1.1,"y":-2200},{"x":1.13,"y":-200},{"x":1.18,"y":-800},{"x":0.42,"y":-3400},{"x":0.43,"y":-1700},{"x":0.5,"y":-1000},{"x":0.57,"y":-1200},{"x":0.54,"y":-700},{"x":0.51,"y":-300},{"x":0.49,"y":-1000},{"x":0.68,"y":-100},{"x":0.71,"y":1200},{"x":0.76,"y":1000},{"x":0.87,"y":-300},
        {"x":0.42,"y":-900},{"x":0.43,"y":-900},{"x":0.44,"y":-1100},{"x":0.44,"y":-500},{"x":0.45,"y":-700},{"x":0.46,"y":-600},{"x":0.46,"y":-1100},{"x":0.47,"y":-400},{"x":0.48,"y":-800},{"x":0.48,"y":-200},{"x":0.49,"y":-500},{"x":0.5,"y":-700},{"x":0.51,"y":-500},{"x":0.52,"y":-600},{"x":0.53,"y":-200},{"x":0.54,"y":0},{"x":0.55,"y":-300},{"x":0.56,"y":-500},{"x":0.57,"y":100},{"x":0.58,"y":-100},{"x":0.59,"y":200},{"x":0.61,"y":500},{"x":0.63,"y":700},{"x":0.65,"y":1000},{"x":0.66,"y":800},{"x":0.69,"y":700},{"x":0.71,"y":1500},{"x":0.73,"y":1700},{"x":0.76,"y":1500},{"x":0.77,"y":1800},{"x":0.79,"y":2200},{"x":0.8,"y":2600},{"x":0.81,"y":2800},{"x":0.81,"y":2000},{"x":0.82,"y":2500},{"x":0.83,"y":2300},{"x":0.84,"y":2800},{"x":0.85,"y":2200},{"x":0.86,"y":1700},{"x":0.87,"y":800},{"x":0.89,"y":1000},{"x":0.9,"y":200},{"x":0.91,"y":300},{"x":0.92,"y":0},{"x":0.93,"y":-200},{"x":0.96,"y":-400},{"x":0.97,"y":-600}],
  "Fh": [{"x":0.546,"y":2710,"c":"green","m":"square"},{"x":0.755,"y":2260,"c":"green","m":"star"},{"x":0.788,"y":1880,"c":"green","m":"square"},{"x":0.773,"y":1480,"c":"green","m":"square"},{"x":0.909,"y":880,"c":"green","m":"star"},{"x":0.944,"y":150,"c":"green","m":"star"},{"x":0.893,"y":230,"c":"orange","m":"square"},{"x":0.998,"y":-1040,"c":"orange","m":"square"},{"x":0.453,"y":-1130,"c":"orange","m":"square"},{"x":0.418,"y":-1260,"c":"red","m":"square"},{"x":0.434,"y":-970,"c":"red","m":"square"},{"x":0.441,"y":-880,"c":"red","m":"square"},{"x":0.454,"y":-720,"c":"red","m":"star"},{"x":0.468,"y":-530,"c":"red","m":"square"}]
},
"vconcat": [
 {"hconcat": [
  {"width": 213, "height": 177, "title": {"text": "🅐", "dx": -42},
   "layer": [
    {"data": {"name": "A"}, "mark": {"type": "point", "filled": true, "size": 10, "color": "#808080", "opacity": 1, "shape": "circle"},
     "encoding": {"x": {"field": "x", "type": "quantitative", "scale": {"domain": [2.136, 4.418], "nice": false, "zero": false}, "axis": {"title": "ΔHL", "values": [2.5, 3, 3.5, 4], "tickCount": 50, "format": ".1f", "labelOverlap": false, "labelFlush": false}},
                  "y": {"field": "y", "type": "quantitative", "scale": {"domain": [-4540, 11740], "nice": false, "zero": false}, "axis": {"title": "SHAP value for ΔHL", "values": [-4000, -2000, 0, 2000, 4000, 6000, 8000, 10000], "tickCount": 50, "format": "d", "labelOverlap": false, "labelFlush": false}}}},
    {"data": {"name": "Ah"}, "mark": {"type": "point", "filled": true, "size": 24, "opacity": 1},
     "encoding": {"x": {"field": "x", "type": "quantitative"}, "y": {"field": "y", "type": "quantitative"},
                  "color": {"field": "c", "type": "nominal", "scale": {"domain": ["red", "orange", "green"], "range": ["#ff0000", "#ffa500", "#008000"]}, "legend": null},
                  "shape": {"field": "m", "type": "nominal", "scale": {"domain": ["square", "star"], "range": ["square", "M0,-1L0.24,-0.33L0.95,-0.31L0.38,0.12L0.59,0.81L0,0.4L-0.59,0.81L-0.38,0.12L-0.95,-0.31L-0.24,-0.33Z"]}, "legend": null}}}
   ]},
  {"width": 217, "height": 177, "title": {"text": "🅑", "dx": -43},
   "layer": [
    {"data": {"name": "B"}, "mark": {"type": "point", "filled": true, "size": 10, "color": "#808080", "opacity": 1, "shape": "circle"},
     "encoding": {"x": {"field": "x", "type": "quantitative", "scale": {"domain": [-0.077, 4.135], "nice": false, "zero": false}, "axis": {"title": "μ₀₁", "values": [0, 0.5, 1, 1.5, 2, 2.5, 3, 3.5, 4], "tickCount": 50, "format": ".1f", "labelOverlap": false, "labelFlush": false}},
                  "y": {"field": "y", "type": "quantitative", "scale": {"domain": [-5200, 13300], "nice": false, "zero": false}, "axis": {"title": "SHAP value for μ₀₁", "values": [-5000, -2500, 0, 2500, 5000, 7500, 10000, 12500], "tickCount": 50, "format": "d", "labelOverlap": false, "labelFlush": false}}}},
    {"data": {"name": "Bh"}, "mark": {"type": "point", "filled": true, "size": 24, "opacity": 1},
     "encoding": {"x": {"field": "x", "type": "quantitative"}, "y": {"field": "y", "type": "quantitative"},
                  "color": {"field": "c", "type": "nominal", "scale": {"domain": ["red", "orange", "green"], "range": ["#ff0000", "#ffa500", "#008000"]}, "legend": null},
                  "shape": {"field": "m", "type": "nominal", "scale": {"domain": ["square", "star"], "range": ["square", "M0,-1L0.24,-0.33L0.95,-0.31L0.38,0.12L0.59,0.81L0,0.4L-0.59,0.81L-0.38,0.12L-0.95,-0.31L-0.24,-0.33Z"]}, "legend": null}}}
   ]},
  {"width": 221, "height": 177, "title": {"text": "🅒", "dx": -43},
   "layer": [
    {"data": {"name": "C"}, "mark": {"type": "point", "filled": true, "size": 10, "color": "#808080", "opacity": 1, "shape": "circle"},
     "encoding": {"x": {"field": "x", "type": "quantitative", "scale": {"domain": [-0.09, 3.2], "nice": false, "zero": false}, "axis": {"title": "DCT", "values": [0, 0.5, 1, 1.5, 2, 2.5, 3], "tickCount": 50, "format": ".1f", "labelOverlap": false, "labelFlush": false}},
                  "y": {"field": "y", "type": "quantitative", "scale": {"domain": [-3910, 7310], "nice": false, "zero": false}, "axis": {"title": "SHAP value for DCT", "values": [-2000, 0, 2000, 4000, 6000], "tickCount": 50, "format": "d", "labelOverlap": false, "labelFlush": false, "minExtent": 27, "maxExtent": 27}}}},
    {"data": {"name": "Ch"}, "mark": {"type": "point", "filled": true, "size": 24, "opacity": 1},
     "encoding": {"x": {"field": "x", "type": "quantitative"}, "y": {"field": "y", "type": "quantitative"},
                  "color": {"field": "c", "type": "nominal", "scale": {"domain": ["red", "orange", "green"], "range": ["#ff0000", "#ffa500", "#008000"]}, "legend": null},
                  "shape": {"field": "m", "type": "nominal", "scale": {"domain": ["square", "star"], "range": ["square", "M0,-1L0.24,-0.33L0.95,-0.31L0.38,0.12L0.59,0.81L0,0.4L-0.59,0.81L-0.38,0.12L-0.95,-0.31L-0.24,-0.33Z"]}, "legend": null}}}
   ]}
 ], "spacing": 7},
 {"hconcat": [
  {"width": 213, "height": 178, "title": {"text": "🅓", "dx": -42},
   "layer": [
    {"data": {"name": "D"}, "mark": {"type": "point", "filled": true, "size": 10, "color": "#808080", "opacity": 1, "shape": "circle"},
     "encoding": {"x": {"field": "x", "type": "quantitative", "scale": {"domain": [-0.035, 1.385], "nice": false, "zero": false}, "axis": {"title": "ΔL", "values": [0, 0.2, 0.4, 0.6, 0.8, 1, 1.2], "tickCount": 50, "format": ".1f", "labelOverlap": false, "labelFlush": false}},
                  "y": {"field": "y", "type": "quantitative", "scale": {"domain": [-3100, 12260], "nice": false, "zero": false}, "axis": {"title": "SHAP value for ΔL", "values": [-2000, 0, 2000, 4000, 6000, 8000, 10000, 12000], "tickCount": 50, "format": "d", "labelOverlap": false, "labelFlush": false}}}},
    {"data": {"name": "Dh"}, "mark": {"type": "point", "filled": true, "size": 24, "opacity": 1},
     "encoding": {"x": {"field": "x", "type": "quantitative"}, "y": {"field": "y", "type": "quantitative"},
                  "color": {"field": "c", "type": "nominal", "scale": {"domain": ["red", "orange", "green"], "range": ["#ff0000", "#ffa500", "#008000"]}, "legend": null},
                  "shape": {"field": "m", "type": "nominal", "scale": {"domain": ["square", "star"], "range": ["square", "M0,-1L0.24,-0.33L0.95,-0.31L0.38,0.12L0.59,0.81L0,0.4L-0.59,0.81L-0.38,0.12L-0.95,-0.31L-0.24,-0.33Z"]}, "legend": null}}}
   ]},
  {"width": 212, "height": 178, "title": {"text": "🅔", "dx": -50},
   "layer": [
    {"data": {"name": "E"}, "mark": {"type": "point", "filled": true, "size": 10, "color": "#808080", "opacity": 1, "shape": "circle"},
     "encoding": {"x": {"field": "x", "type": "quantitative", "scale": {"domain": [1.066, 2.254], "nice": false, "zero": false}, "axis": {"title": "ΔES1", "values": [1.2, 1.4, 1.6, 1.8, 2.0, 2.2], "tickCount": 50, "format": ".1f", "labelOverlap": false, "labelFlush": false}},
                  "y": {"field": "y", "type": "quantitative", "scale": {"domain": [-5350, 15600], "nice": false, "zero": false}, "axis": {"title": "SHAP value for ΔES1", "values": [-5000, -2500, 0, 2500, 5000, 7500, 10000, 12500, 15000], "tickCount": 50, "format": "d", "labelOverlap": false, "labelFlush": false, "minExtent": 35, "maxExtent": 35}}}},
    {"data": {"name": "Eh"}, "mark": {"type": "point", "filled": true, "size": 24, "opacity": 1},
     "encoding": {"x": {"field": "x", "type": "quantitative"}, "y": {"field": "y", "type": "quantitative"},
                  "color": {"field": "c", "type": "nominal", "scale": {"domain": ["red", "orange", "green"], "range": ["#ff0000", "#ffa500", "#008000"]}, "legend": null},
                  "shape": {"field": "m", "type": "nominal", "scale": {"domain": ["square", "star"], "range": ["square", "M0,-1L0.24,-0.33L0.95,-0.31L0.38,0.12L0.59,0.81L0,0.4L-0.59,0.81L-0.38,0.12L-0.95,-0.31L-0.24,-0.33Z"]}, "legend": null}}}
   ]},
  {"width": 217, "height": 178, "title": {"text": "🅕", "dx": -40},
   "layer": [
    {"data": {"name": "F"}, "mark": {"type": "point", "filled": true, "size": 10, "color": "#808080", "opacity": 1, "shape": "circle"},
     "encoding": {"x": {"field": "x", "type": "quantitative", "scale": {"domain": [0.37, 1.22], "nice": false, "zero": false}, "axis": {"title": "qCT", "values": [0.4, 0.5, 0.6, 0.7, 0.8, 0.9, 1.0, 1.1, 1.2], "tickCount": 50, "format": ".1f", "labelOverlap": false, "labelFlush": false}},
                  "y": {"field": "y", "type": "quantitative", "scale": {"domain": [-3715, 3215], "nice": false, "zero": false}, "axis": {"title": "SHAP value for qCT", "values": [-3000, -2000, -1000, 0, 1000, 2000, 3000], "tickCount": 50, "format": "d", "labelOverlap": false, "labelFlush": false, "minExtent": 25, "maxExtent": 25}}}},
    {"data": {"name": "Fh"}, "mark": {"type": "point", "filled": true, "size": 24, "opacity": 1},
     "encoding": {"x": {"field": "x", "type": "quantitative"}, "y": {"field": "y", "type": "quantitative"},
                  "color": {"field": "c", "type": "nominal", "scale": {"domain": ["red", "orange", "green"], "range": ["#ff0000", "#ffa500", "#008000"]}, "legend": null},
                  "shape": {"field": "m", "type": "nominal", "scale": {"domain": ["square", "star"], "range": ["square", "M0,-1L0.24,-0.33L0.95,-0.31L0.38,0.12L0.59,0.81L0,0.4L-0.59,0.81L-0.38,0.12L-0.95,-0.31L-0.24,-0.33Z"]}, "legend": null}}}
   ]}
 ], "spacing": 8}
],
"spacing": 2
}
